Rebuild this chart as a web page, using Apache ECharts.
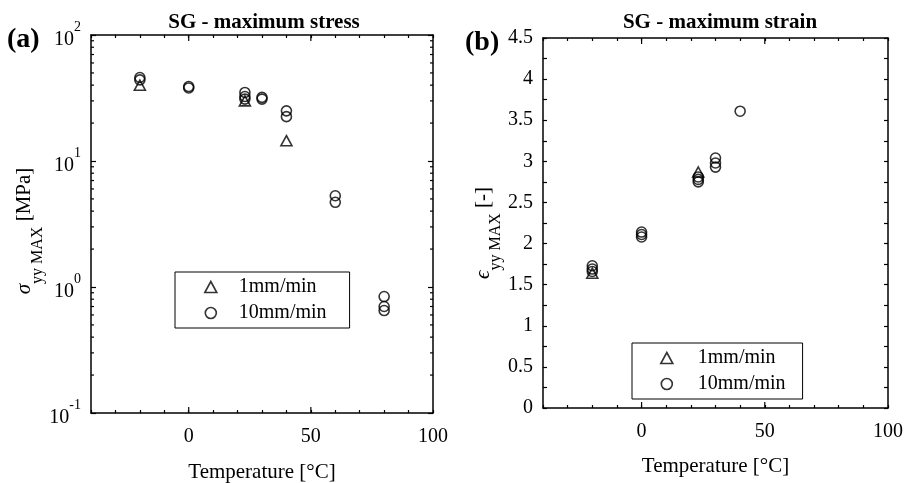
<!DOCTYPE html>
<html>
<head>
<meta charset="utf-8">
<script src="https://cdn.jsdelivr.net/npm/echarts@6/dist/echarts.min.js"></script>
<style>
  html, body { margin: 0; padding: 0; background: #fff; }
  #chart { width: 906px; height: 483px; }
</style>
</head>
<body>
<div id="chart"></div>
<script>
// Temperature axis
const tempMin = -40;
const tempMax = 100;
const tempMajorTicks = [0, 50];

// Stress axis (log) and its in-between ticks
const stressMin = 0.1;
const stressMax = 100;
const stressMinorTicks = [0.2, 0.3, 0.4, 0.5, 0.6, 0.7, 0.8, 0.9,
                          2, 3, 4, 5, 6, 7, 8, 9,
                          20, 30, 40, 50, 60, 70, 80, 90];

// Strain axis
const strainMin = 0;
const strainMax = 4.5;

// Maximum stress [MPa]
const stressSlowTemp  = [-20, 23, 40];
const stressSlowValue = [40, 30, 14.5];
const stressFastTemp  = [-20, -20, 0, 0, 23, 23, 23, 30, 30, 40, 40, 60, 60, 80, 80, 80];
const stressFastValue = [46, 44, 39, 38, 35, 32.5, 31, 32, 31, 25, 22.5, 5.3, 4.7, 0.84, 0.70, 0.65];

// Maximum strain [-]
const strainSlowTemp  = [-20, 23];
const strainSlowValue = [1.64, 2.87];
const strainFastTemp  = [-20, -20, -20, 0, 0, 0, 23, 23, 23, 30, 30, 30, 40];
const strainFastValue = [1.73, 1.69, 1.66, 2.14, 2.11, 2.08, 2.81, 2.78, 2.75, 3.04, 2.98, 2.93, 3.61];

const seriesNames = ['1mm/min', '10mm/min'];

const FONT = 'Liberation Serif, Times New Roman, serif';
const BLACK = '#000';

const pairs = (xs, ys) => xs.map((x, i) => [x, ys[i]]);

const hollow = { color: 'rgba(0,0,0,0)', borderColor: BLACK, borderWidth: 1.6 };
const frameLine = { show: true, onZero: false, lineStyle: { color: BLACK, width: 1.5 } };

// Rich styles for a Greek symbol with a lowered "yy MAX" subscript
const nameRich = {
  g: { fontFamily: FONT, fontSize: 21, fontStyle: 'italic', lineHeight: 22, verticalAlign: 'top', color: BLACK },
  m: { fontFamily: FONT, fontSize: 21, lineHeight: 22, verticalAlign: 'top', color: BLACK },
  sub: { fontFamily: FONT, fontSize: 16, lineHeight: 31, verticalAlign: 'bottom', color: BLACK }
};

function xAxisPair(gridIndex, nameGap) {
  const base = {
    gridIndex, type: 'value', min: tempMin, max: tempMax, interval: 10,
    axisLine: frameLine,
    axisTick: { show: true, inside: true, length: 3, lineStyle: { color: BLACK, width: 1.2 } },
    splitLine: { show: false }
  };
  return [
    Object.assign({}, base, {
      position: 'bottom',
      name: 'Temperature [°C]', nameLocation: 'middle', nameGap,
      nameTextStyle: { fontFamily: FONT, fontSize: 21, color: BLACK },
      axisLabel: {
        margin: 14, fontFamily: FONT, fontSize: 20, color: BLACK,
        formatter: v => (v % 50 === 0 ? String(v) : '')
      }
    }),
    Object.assign({}, base, { position: 'top', axisLabel: { show: false } })
  ];
}

function stressAxes() {
  const base = {
    gridIndex: 0, type: 'log', logBase: 10, min: stressMin, max: stressMax,
    axisLine: frameLine,
    axisTick: { show: true, inside: true, length: 5, lineStyle: { color: BLACK, width: 1.2 } },
    splitLine: { show: false }
  };
  return [
    Object.assign({}, base, {
      position: 'left',
      name: '{g|σ}{sub|yy MAX}{m| [MPa]}', nameLocation: 'middle', nameGap: 30,
      nameTextStyle: { color: BLACK, padding: [0, 14, 0, 0], rich: nameRich },
      axisLabel: {
        margin: 10, color: BLACK,
        formatter: v => '{b|10}{s|' + Math.round(Math.log10(v)) + '}',
        rich: {
          b: { fontFamily: FONT, fontSize: 20, lineHeight: 30, verticalAlign: 'bottom', color: BLACK },
          s: { fontFamily: FONT, fontSize: 14, lineHeight: 16, verticalAlign: 'top', color: BLACK }
        }
      }
    }),
    Object.assign({}, base, { position: 'right', axisLabel: { show: false } })
  ];
}

function strainAxes() {
  const base = {
    gridIndex: 1, type: 'value', min: strainMin, max: strainMax, interval: 0.5,
    axisLine: frameLine,
    axisTick: { show: true, inside: true, length: 4, lineStyle: { color: BLACK, width: 1.2 } },
    minorTick: { show: true, splitNumber: 2, length: 4, lineStyle: { color: BLACK, width: 1.2 } },
    splitLine: { show: false }
  };
  return [
    Object.assign({}, base, {
      position: 'left',
      name: '{g|ϵ}{sub|yy MAX}{m| [-]}', nameLocation: 'middle', nameGap: 24,
      nameTextStyle: { color: BLACK, padding: [0, 20, 0, 0], rich: nameRich },
      axisLabel: { margin: 10, fontFamily: FONT, fontSize: 20, color: BLACK }
    }),
    Object.assign({}, base, { position: 'right', axisLabel: { show: false } })
  ];
}

// Short inward ticks on both vertical edges for the log decades' sub-divisions
function minorYTicksSeries(xAxisIndex, yAxisIndex, values, len) {
  return {
    type: 'custom', xAxisIndex, yAxisIndex, silent: true, z: 5,
    data: values.map(v => [tempMin, v]),
    renderItem: (params, api) => {
      const v = api.value(1);
      const a = api.coord([tempMin, v]);
      const b = api.coord([tempMax, v]);
      const style = { stroke: BLACK, lineWidth: 1.2 };
      return {
        type: 'group', children: [
          { type: 'line', shape: { x1: a[0], y1: a[1], x2: a[0] + len, y2: a[1] }, style },
          { type: 'line', shape: { x1: b[0], y1: b[1], x2: b[0] - len, y2: b[1] }, style }
        ]
      };
    }
  };
}

// Longer inward ticks at the labelled temperatures on top and bottom edges
function majorXTicksSeries(xAxisIndex, yAxisIndex, yLow, yHigh, len) {
  return {
    type: 'custom', xAxisIndex, yAxisIndex, silent: true, z: 5,
    data: tempMajorTicks.map(t => [t, yLow]),
    renderItem: (params, api) => {
      const t = api.value(0);
      const a = api.coord([t, yLow]);
      const b = api.coord([t, yHigh]);
      const style = { stroke: BLACK, lineWidth: 1.2 };
      return {
        type: 'group', children: [
          { type: 'line', shape: { x1: a[0], y1: a[1], x2: a[0], y2: a[1] - len }, style },
          { type: 'line', shape: { x1: b[0], y1: b[1], x2: b[0], y2: b[1] + len }, style }
        ]
      };
    }
  };
}

function legendAt(left, top, padLeft, textShift, padRight) {
  return {
    left, top, orient: 'vertical', selectedMode: false,
    data: [{ name: seriesNames[0], icon: 'triangle' }, { name: seriesNames[1], icon: 'circle' }],
    itemWidth: 12, itemHeight: 11, itemGap: 6,
    padding: [5, padRight, 5, padLeft],
    borderColor: BLACK, borderWidth: 1, backgroundColor: '#fff', borderRadius: 0,
    itemStyle: { color: 'rgba(0,0,0,0)', borderColor: BLACK, borderWidth: 1.6 },
    textStyle: { fontFamily: FONT, fontSize: 20, color: BLACK, padding: [0, 0, 0, textShift] }
  };
}

const xAxes = xAxisPair(0, 49).concat(xAxisPair(1, 48));
const yAxes = stressAxes().concat(strainAxes());

const option = {
  backgroundColor: '#fff',
  animation: false,
  title: [
    { text: 'SG - maximum stress', left: 259, top: 7, textAlign: 'center',
      textStyle: { fontFamily: FONT, fontSize: 21, fontWeight: 'bold', color: BLACK } },
    { text: 'SG - maximum strain', left: 715, top: 7, textAlign: 'center',
      textStyle: { fontFamily: FONT, fontSize: 21, fontWeight: 'bold', color: BLACK } }
  ],
  graphic: [
    { type: 'text', left: 7, top: 26,
      style: { text: '(a)', fontFamily: FONT, fontSize: 28, fontWeight: 'bold', fill: BLACK } },
    { type: 'text', left: 465, top: 29,
      style: { text: '(b)', fontFamily: FONT, fontSize: 28, fontWeight: 'bold', fill: BLACK } }
  ],
  grid: [
    { left: 91, top: 35, width: 342, height: 378, outerBoundsMode: 'none', containLabel: false },
    { left: 543, top: 38, width: 345, height: 370, outerBoundsMode: 'none', containLabel: false }
  ],
  legend: [
    legendAt(175, 272, 29, 17, 23),
    legendAt(632, 343, 28, 20, 17)
  ],
  xAxis: xAxes,
  yAxis: yAxes,
  series: [
    { name: seriesNames[0], type: 'scatter', xAxisIndex: 0, yAxisIndex: 0,
      symbol: 'triangle', symbolSize: [11, 10], itemStyle: hollow,
      data: pairs(stressSlowTemp, stressSlowValue) },
    { name: seriesNames[1], type: 'scatter', xAxisIndex: 0, yAxisIndex: 0,
      symbol: 'circle', symbolSize: 10, itemStyle: hollow,
      data: pairs(stressFastTemp, stressFastValue) },
    { name: seriesNames[0], type: 'scatter', xAxisIndex: 2, yAxisIndex: 2,
      symbol: 'triangle', symbolSize: [11, 10], itemStyle: hollow,
      data: pairs(strainSlowTemp, strainSlowValue) },
    { name: seriesNames[1], type: 'scatter', xAxisIndex: 2, yAxisIndex: 2,
      symbol: 'circle', symbolSize: 10, itemStyle: hollow,
      data: pairs(strainFastTemp, strainFastValue) },
    minorYTicksSeries(0, 0, stressMinorTicks, 3),
    majorXTicksSeries(0, 0, stressMin, stressMax, 6),
    majorXTicksSeries(2, 2, strainMin, strainMax, 6)
  ]
};

const chart = echarts.init(document.getElementById('chart'), null, { renderer: 'canvas' });
chart.setOption(option);
</script>
</body>
</html>
